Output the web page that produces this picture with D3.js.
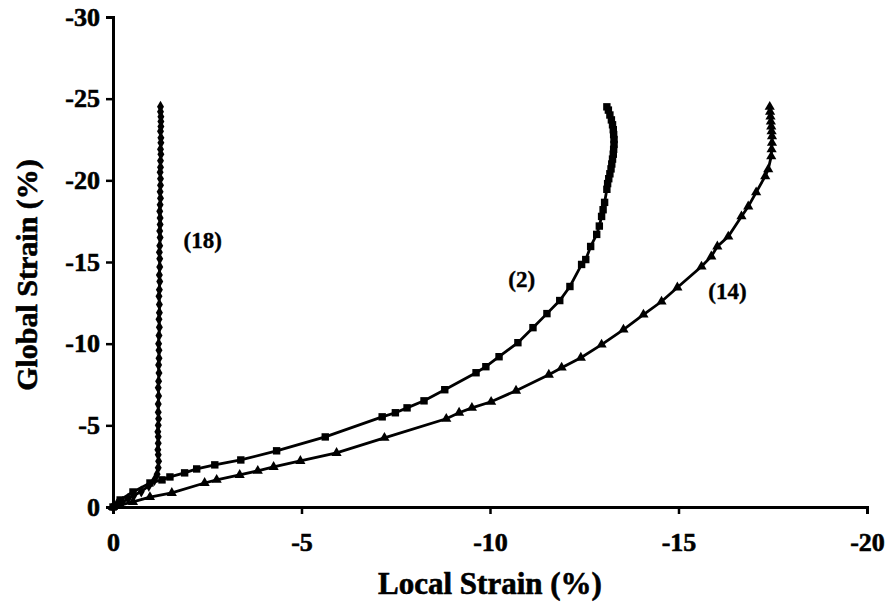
<!DOCTYPE html>
<html>
<head>
<meta charset="utf-8">
<script src="https://cdn.jsdelivr.net/npm/d3@7"></script>
<style>
  body { margin: 0; background: #fff; }
  text { font-family: "Liberation Serif", "Times New Roman", serif; font-weight: bold; fill: #000; }
</style>
</head>
<body>
<div id="chart"></div>
<script>
// TICK LABELS
var xTicks = [0, -5, -10, -15, -20];
var yTicks = [0, -5, -10, -15, -20, -25, -30];

// SERIES (18) -- DIAMONDS
var local18 = [0, -0.1, -0.25, -0.4, -0.55, -0.75, -0.95, -1.1, -1.17, -1.2, -1.21, -1.2,
   -1.19, -1.2, -1.2, -1.19, -1.2, -1.21, -1.2, -1.2, -1.21, -1.2, -1.21, -1.22, -1.21, -1.22,
   -1.22, -1.21, -1.22, -1.23, -1.22, -1.23, -1.23, -1.22, -1.23, -1.24, -1.23, -1.24, -1.24,
   -1.23, -1.24, -1.25, -1.24, -1.25, -1.25, -1.24, -1.25, -1.26, -1.25, -1.26, -1.26, -1.25,
   -1.26, -1.26, -1.27, -1.26, -1.27, -1.27, -1.26, -1.27, -1.27, -1.27, -1.26, -1.26];
var global18 = [0, -0.15, -0.3, -0.5, -0.7, -0.95, -1.3, -1.65, -2.0, -2.4, -2.8, -3.2,
   -3.5, -3.9, -4.3, -4.6, -5.0, -5.4, -5.8, -6.3, -6.8, -7.3, -7.7, -8.2, -8.7, -9.1,
   -9.6, -10.0, -10.5, -11.0, -11.5, -11.9, -12.4, -12.9, -13.3, -13.8, -14.2, -14.7, -15.2,
   -15.6, -16.0, -16.5, -16.9, -17.3, -17.7, -18.1, -18.5, -18.9, -19.3, -19.7, -20.1, -20.5,
   -20.8, -21.2, -21.6, -21.9, -22.3, -22.6, -23.0, -23.3, -23.6, -23.9, -24.2, -24.5];

// SERIES (2) -- SQUARES
var local2 = [0, -0.19, -0.53, -0.98, -1.30, -1.51, -1.90, -2.22, -2.70, -3.39, -4.34, -5.63,
   -7.14, -7.49, -7.80, -8.25, -8.80, -9.63, -9.89, -10.24, -10.74, -11.14, -11.51, -11.85,
   -12.12, -12.43, -12.54, -12.67, -12.83, -12.90, -12.96, -13.00, -13.04, -13.10,
   -13.12, -13.15, -13.18, -13.21, -13.23, -13.25, -13.27, -13.28, -13.29, -13.29, -13.28,
   -13.27, -13.25, -13.22, -13.18, -13.14, -13.10];
var global2 = [0, -0.43, -0.92, -1.47, -1.66, -1.84, -2.09, -2.33, -2.58, -2.88, -3.44, -4.29,
   -5.52, -5.77, -6.07, -6.50, -7.18, -8.22, -8.59, -9.20, -10.06, -10.98, -11.84, -12.64,
   -13.50, -14.85, -15.15, -15.95, -16.69, -17.20, -17.79, -18.20, -18.65, -19.45,
   -19.80, -20.10, -20.40, -20.70, -21.00, -21.30, -21.60, -21.90, -22.20, -22.50, -22.80,
   -23.10, -23.40, -23.70, -24.00, -24.30, -24.50];

// SERIES (14) -- TRIANGLES
var local14 = [0, -0.53, -0.98, -1.56, -2.43, -2.75, -3.36, -3.84, -4.26, -4.97, -5.93, -7.20,
   -8.84, -9.18, -9.52, -10.03, -10.69, -11.56, -11.90, -12.41, -12.96, -13.54, -14.07, -14.55,
   -14.97, -15.61, -15.87, -16.03, -16.32, -16.67, -16.85, -17.06, -17.30, -17.38, -17.46,
   -17.47, -17.48, -17.48, -17.47, -17.46, -17.45, -17.44, -17.43, -17.42];
var global14 = [0, -0.31, -0.61, -0.86, -1.47, -1.66, -1.96, -2.21, -2.45, -2.82, -3.31, -4.23,
   -5.40, -5.77, -6.07, -6.44, -7.12, -8.10, -8.53, -9.14, -9.94, -10.86, -11.78, -12.58,
   -13.44, -14.72, -15.34, -15.95, -16.56, -17.79, -18.40, -19.26, -20.25, -20.67, -21.47,
   -21.90, -22.30, -22.70, -23.00, -23.30, -23.60, -23.90, -24.20, -24.50];

// CURVE LABELS
var curveNames = ['(18)', '(2)', '(14)'];
var curveLabelAt = [[-2.38, -15.86], [-10.84, -13.47], [-16.3, -12.74]];

// SETTINGS
var settings = {
   width: 892,
   height: 606,
   margin: { top: 17, right: 25, bottom: 99, left: 113 },
   line: 2.8,
   axis: 3
};

var svg = d3.select('#chart').append('svg')
   .attr('width', settings.width)
   .attr('height', settings.height);

// SCALES
var x = d3.scaleLinear().domain([0, -20])
   .range([settings.margin.left, settings.width - settings.margin.right]);
var y = d3.scaleLinear().domain([0, -30])
   .range([settings.height - settings.margin.bottom, settings.margin.top]);

// AXES
svg.append('g')
   .attr('transform', 'translate(0,' + y(0) + ')')
   .call(d3.axisBottom(x).tickValues(xTicks).tickFormat(d => String(d)).tickSizeOuter(0).tickSize(7).tickPadding(19));
svg.append('g')
   .attr('transform', 'translate(' + x(0) + ',0)')
   .call(d3.axisLeft(y).tickValues(yTicks).tickFormat(d => String(d)).tickSizeOuter(0).tickSize(7).tickPadding(6));

svg.selectAll('.domain').attr('stroke', '#000').attr('stroke-width', settings.axis);
svg.selectAll('.tick line').attr('stroke', '#000').attr('stroke-width', 2.5);
svg.selectAll('.tick text')
   .style('font-family', '"Liberation Serif", "Times New Roman", serif')
   .style('font-weight', 'bold')
   .style('font-size', '26px')
   .style('stroke', '#000')
   .style('stroke-width', '0.6px');

// AXIS TITLES
svg.append('text')
   .attr('x', 490).attr('y', 594)
   .attr('text-anchor', 'middle')
   .style('font-size', '31px')
   .style('stroke', '#000').style('stroke-width', '0.6px')
   .text('Local Strain (%)');
svg.append('text')
   .attr('transform', 'translate(37,275) rotate(-90)')
   .attr('text-anchor', 'middle')
   .style('font-size', '30px')
   .style('stroke', '#000').style('stroke-width', '0.6px')
   .text('Global Strain (%)');

// LINES + MARKERS
var series = [
   { xs: local18, ys: global18, symbol: d3.symbolDiamond, size: 42 },
   { xs: local2, ys: global2, symbol: d3.symbolSquare, size: 55 },
   { xs: local14, ys: global14, symbol: d3.symbolTriangle, size: 45 }
];

var line = d3.line().x(d => x(d[0])).y(d => y(d[1]));

series.forEach(function (s) {
   var pts = s.xs.map((v, i) => [v, s.ys[i]]);
   svg.append('path')
      .attr('d', line(pts))
      .attr('fill', 'none')
      .attr('stroke', '#000')
      .attr('stroke-width', settings.line);
   svg.append('g').selectAll('path')
      .data(pts)
      .enter().append('path')
      .attr('transform', d => 'translate(' + x(d[0]) + ',' + y(d[1]) + ')')
      .attr('d', d3.symbol().type(s.symbol).size(s.size))
      .attr('fill', '#000');
});

// CURVE LABELS
svg.selectAll('.curve-label')
   .data(curveNames)
   .enter().append('text')
   .attr('class', 'curve-label')
   .attr('x', (d, i) => x(curveLabelAt[i][0]))
   .attr('y', (d, i) => y(curveLabelAt[i][1]))
   .attr('text-anchor', 'middle')
   .style('font-size', '23px')
   .style('stroke', '#000').style('stroke-width', '0.4px')
   .text(d => d);
</script>
</body>
</html>
